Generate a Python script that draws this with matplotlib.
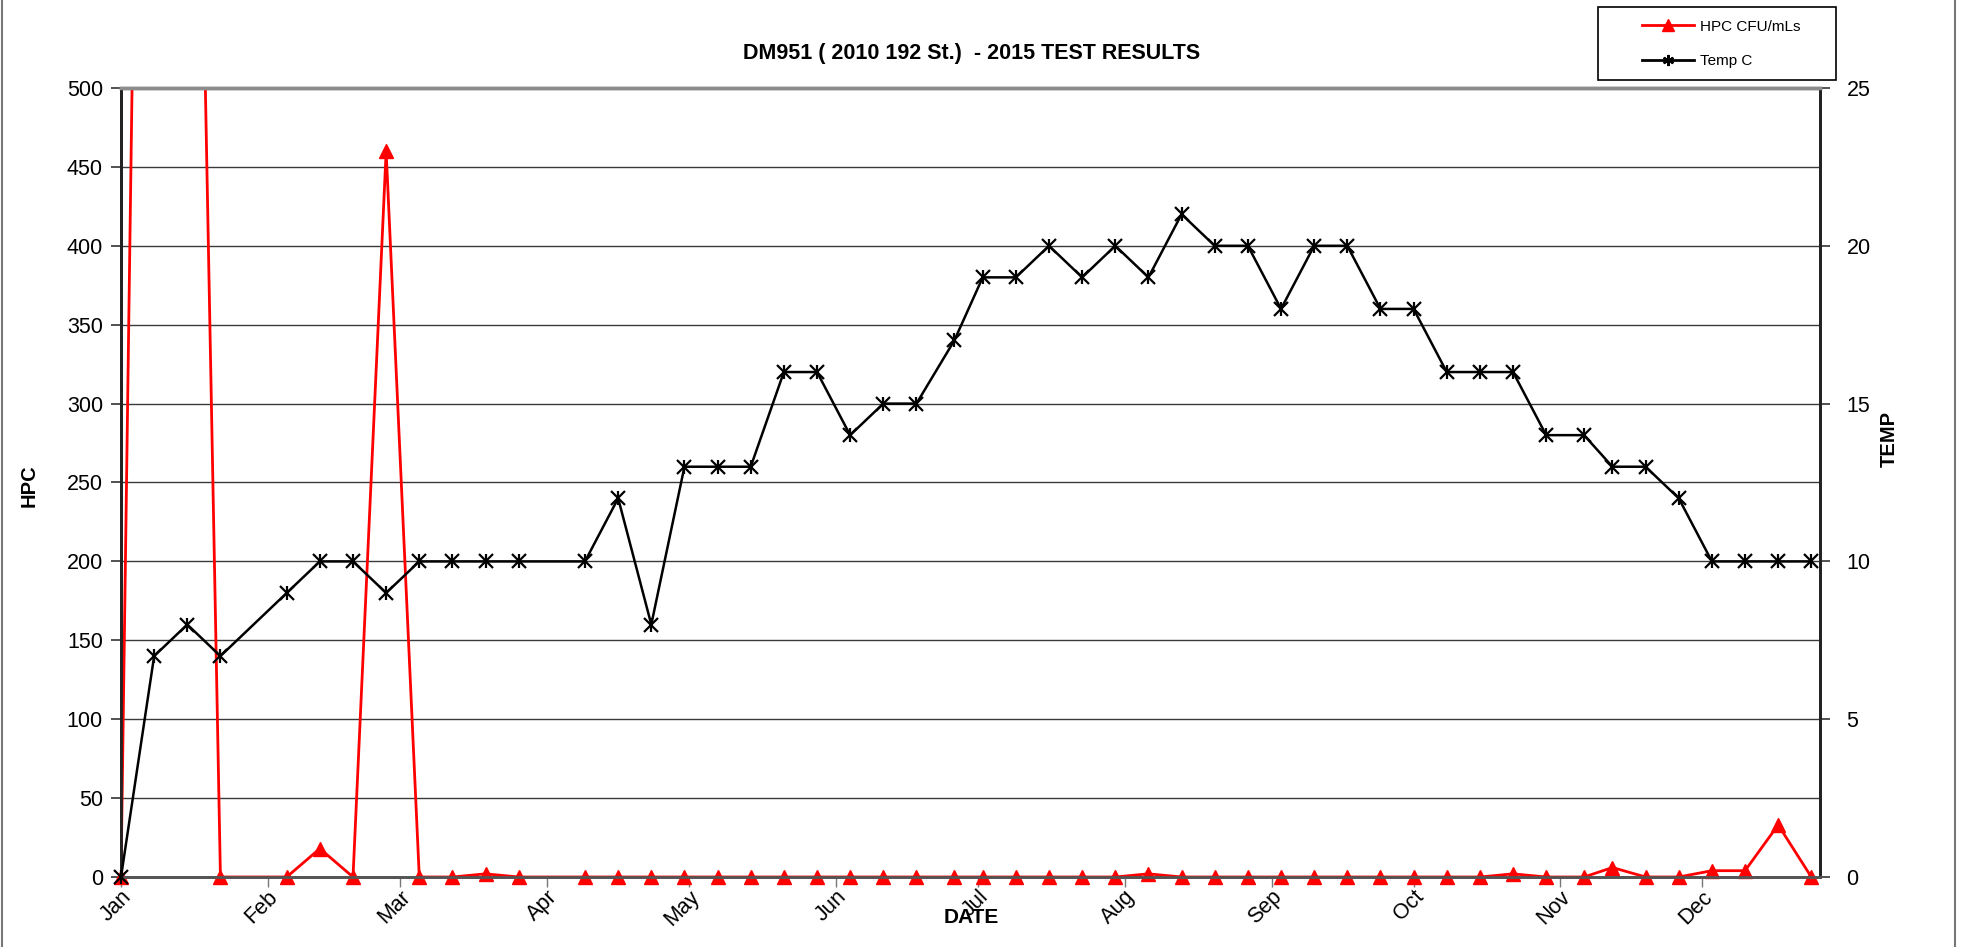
import matplotlib
matplotlib.use('Agg')
import matplotlib.pyplot as plt
import matplotlib.font_manager as fm
from matplotlib.lines import Line2D
from matplotlib.patches import Rectangle
from datetime import datetime, timedelta
import numpy as np

# ---------------- data ----------------
dates = ["2015-01-01", "2015-01-08", "2015-01-15", "2015-01-22", "2015-02-05",
         "2015-02-12", "2015-02-19", "2015-02-26", "2015-03-05", "2015-03-12",
         "2015-03-19", "2015-03-26", "2015-04-09", "2015-04-16", "2015-04-23",
         "2015-04-30", "2015-05-07", "2015-05-14", "2015-05-21", "2015-05-28",
         "2015-06-04", "2015-06-11", "2015-06-18", "2015-06-26", "2015-07-02",
         "2015-07-09", "2015-07-16", "2015-07-23", "2015-07-30", "2015-08-06",
         "2015-08-13", "2015-08-20", "2015-08-27", "2015-09-03", "2015-09-10",
         "2015-09-17", "2015-09-24", "2015-10-01", "2015-10-08", "2015-10-15",
         "2015-10-22", "2015-10-29", "2015-11-06", "2015-11-12", "2015-11-19",
         "2015-11-26", "2015-12-03", "2015-12-10", "2015-12-17", "2015-12-24"]
hpc = [0, 1500, 1100, 0, 0, 18, 0, 460, 0, 0,
       2, 0, 0, 0, 0, 0, 0, 0, 0, 0,
       0, 0, 0, 0, 0, 0, 0, 0, 0, 2,
       0, 0, 0, 0, 0, 0, 0, 0, 0, 0,
       2, 0, 0, 6, 0, 0, 4, 4, 33, 0]
temp = [0, 7, 8, 7, 9, 10, 10, 9, 10, 10,
        10, 10, 10, 12, 8, 13, 13, 13, 16, 16,
        14, 15, 15, 17, 19, 19, 20, 19, 20, 19,
        21, 20, 20, 18, 20, 20, 18, 18, 16, 16,
        16, 14, 14, 13, 13, 12, 10, 10, 10, 10]
month_labels = ["Jan", "Feb", "Mar", "Apr", "May", "Jun",
                "Jul", "Aug", "Sep", "Oct", "Nov", "Dec"]
hpc_ticks = [0, 50, 100, 150, 200, 250, 300, 350, 400, 450, 500]
temp_ticks = [0, 5, 10, 15, 20, 25]

title = "DM951 ( 2010 192 St.)  - 2015 TEST RESULTS"
series_names = ["HPC CFU/mLs", "Temp C"]

# ---------------- fonts ----------------
avail = {f.name for f in fm.fontManager.ttflist}
base_font = "Liberation Sans" if "Liberation Sans" in avail else "DejaVu Sans"
title_font = "Liberation Sans Narrow" if "Liberation Sans Narrow" in avail else base_font
plt.rcParams['font.family'] = [base_font, 'DejaVu Sans']

x = [datetime.strptime(d, "%Y-%m-%d") for d in dates]
hpc_arr = np.array(hpc, dtype=float)
HPC_MAX = 500
hpc_visible = np.where(hpc_arr <= HPC_MAX, hpc_arr, np.nan)

W, H = 1965, 947
fig = plt.figure(figsize=(W / 100, H / 100), dpi=100)

def fx(px):
    return px / W

def fy(py):
    return 1 - py / H

ax_l, ax_r, ax_t, ax_b = 121, 1820, 88, 877
ax = fig.add_axes([fx(ax_l), fy(ax_b), fx(ax_r - ax_l), (ax_b - ax_t) / H])
ax2 = ax.twinx()

# HPC series: line (clipped at the axis top) + markers (not clipped)
ax.plot(x, hpc, color='#ff0000', lw=2.0, zorder=3)
ax.plot(x, hpc_visible, color='#ff0000', lw=0, marker='^', ms=10,
        markeredgecolor='#ff0000', markerfacecolor='#ff0000', zorder=3,
        clip_on=False)
ax.set_ylim(0, HPC_MAX)
ax.set_yticks(hpc_ticks)
ax.set_yticklabels([str(v) for v in hpc_ticks])
ax.grid(axis='y', color='#3a3a3a', lw=1.0)
ax.set_axisbelow(True)

# Temp series
ax2.plot(x, temp, color='black', lw=1.8, marker='x', ms=9.5, mew=1.6, zorder=4,
         clip_on=False)
ax2.plot(x, temp, color='black', lw=0, marker='|', ms=10, mew=1.6, zorder=4,
         clip_on=False)
ax2.set_ylim(0, 25)
ax2.set_yticks(temp_ticks)
ax2.set_yticklabels([str(v) for v in temp_ticks])

ax.set_xlim(datetime(2015, 1, 1), datetime(2015, 12, 25, 20))
month_starts = [datetime(2015, m, 1) for m in range(1, 13)]
# tick marks at month starts; labels on (invisible) minor ticks nudged right
ax.set_xticks(month_starts)
ax.set_xticklabels([])
label_pos = [m + timedelta(hours=36) for m in month_starts]
ax.set_xticks(label_pos, minor=True)
ax.set_xticklabels(month_labels, minor=True, rotation=45, ha='right', va='center',
                   rotation_mode='anchor', fontsize=15.5)

ax.tick_params(axis='x', which='major', direction='out', length=7, width=1,
               color='#777777')
ax.tick_params(axis='x', which='minor', length=0, pad=12)
ax.tick_params(axis='y', direction='out', length=7, width=1.2, color='#333333',
               labelsize=15.5, pad=6)
ax2.tick_params(axis='y', direction='out', length=7, width=1.2, color='#333333',
                labelsize=15.5, pad=12)

for a in (ax, ax2):
    a.spines['top'].set_color('#8c8c8c')
    a.spines['top'].set_linewidth(2.5)
    a.spines['bottom'].set_color('#555555')
    a.spines['bottom'].set_linewidth(2.0)
    a.spines['left'].set_color('#222222')
    a.spines['left'].set_linewidth(2.0)
    a.spines['right'].set_color('#222222')
    a.spines['right'].set_linewidth(2.0)

# labels
fig.text(fx(972), fy(54), title, ha='center', va='center', fontsize=15.5,
         fontweight='bold', family=[title_font, base_font, 'DejaVu Sans'])
fig.text(fx(971), fy(917), "DATE", ha='center', va='center', fontsize=15,
         fontweight='bold', family=[title_font, base_font, 'DejaVu Sans'])
fig.text(fx(29), fy(486), "HPC", ha='center', va='center', fontsize=14.5,
         fontweight='bold', rotation=90)
fig.text(fx(1889), fy(439), "TEMP", ha='center', va='center', fontsize=14.5,
         fontweight='bold', rotation=90)

# outer chart border
fig.patches.append(Rectangle((fx(2), fy(960)), fx(1955 - 2), (960 + 20) / H,
                             transform=fig.transFigure, fill=False,
                             edgecolor='#777777', lw=1.5))

# legend box + legend
fig.patches.append(Rectangle((fx(1598), fy(80)), fx(1836 - 1598), (80 - 7) / H,
                             transform=fig.transFigure, fill=True, facecolor='white',
                             edgecolor='black', lw=1.2, zorder=5))
handles = [Line2D([], [], color='#ff0000', lw=2.0, marker='^', ms=8,
                  markerfacecolor='#ff0000', markeredgecolor='#ff0000'),
           Line2D([], [], color='black', lw=2.0, marker=(6, 2, 0), ms=8, mew=1.5)]
leg = fig.legend(handles, series_names, loc='upper left',
                 bbox_to_anchor=(fx(1628), fy(6)), frameon=False,
                 fontsize=11, handlelength=3.4, handletextpad=0.4,
                 labelspacing=1.35, borderpad=0.4)
leg.set_zorder(6)

fig.savefig("out.png", dpi=100, facecolor='white')
